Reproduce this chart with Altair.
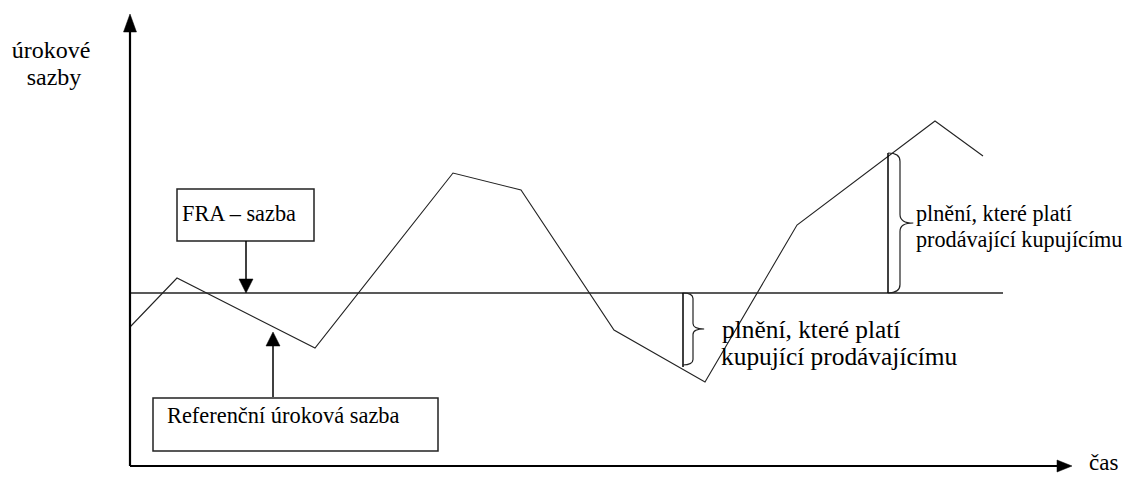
import altair as alt
import pandas as pd

# ---- data (diagram units: time to the right, rate upward) ----
ref_time = [122, 169, 307, 445, 513, 606, 697, 789, 927, 975]
ref_rate = [149, 198, 128, 303, 286, 146, 94, 251, 355, 320]

fra_rate = 183
fra_start, fra_end = 122, 995

axis_origin_t, axis_origin_u = 122, 10
axis_t_tip, axis_u_tip = 1064, 462

y_label = ["úrokové", "sazby"]
x_label = "čas"
fra_label = "FRA – sazba"
ref_label = "Referenční úroková sazba"
brace1_label = ["plnění, které platí", "kupující prodávajícímu"]
brace2_label = ["plnění, které platí", "prodávající kupujícímu"]

FONT = "Liberation Serif"
W, H = 1117, 468

xs = alt.Scale(domain=[0, W], nice=False, zero=False)
ys = alt.Scale(domain=[0, H], nice=False, zero=False)


def X(f="x"):
    return alt.X(f"{f}:Q", scale=xs, axis=None)


def Y(f="y"):
    return alt.Y(f"{f}:Q", scale=ys, axis=None)


def seg_layer(rows, width, color="black"):
    df = pd.DataFrame(rows, columns=["x", "y", "x2", "y2"])
    return alt.Chart(df).mark_rule(strokeWidth=width, color=color).encode(
        x=X(), y=Y(), x2="x2:Q", y2="y2:Q")


# reference rate line
ref_df = pd.DataFrame({"t": ref_time, "r": ref_rate, "o": range(len(ref_time))})
ref_line = alt.Chart(ref_df).mark_line(color="#222222", strokeWidth=1.1).encode(
    x=X("t"), y=Y("r"), order="o:Q")

# axes
axes = seg_layer([
    [axis_origin_t, axis_origin_u, axis_origin_t, axis_u_tip - 14],
    [axis_origin_t, axis_origin_u, axis_t_tip - 12, axis_origin_u],
], 2.2)

# FRA line
fra = seg_layer([[fra_start, fra_rate, fra_end, fra_rate]], 1.5, "#222222")

# boxes
box_df = pd.DataFrame({
    "x": [169, 145], "x2": [306, 430], "y": [287, 78], "y2": [235, 25]})
boxes = alt.Chart(box_df).mark_rect(fill="white", stroke="#222222", strokeWidth=1.5).encode(
    x=X(), x2="x2:Q", y=Y(), y2="y2:Q")

# arrow shafts
shafts = seg_layer([
    [238, 235, 238, fra_rate + 10],
    [265, 79, 265, 144 - 10],
], 1.5)

# vertical lines by braces
vlines = seg_layer([
    [675, fra_rate, 675, 109],
    [880, fra_rate, 880, 323],
], 1.5)


# arrowheads
def head(t, u, path, size):
    return alt.Chart(pd.DataFrame({"x": [t], "y": [u]})).mark_point(
        shape=path, size=size, filled=True, fill="black", stroke="black",
        strokeWidth=0.5, opacity=1).encode(x=X(), y=Y())


UP = "M 0 0 L 0.36 1 L -0.36 1 Z"
DOWN = "M 0 0 L 0.5 -1 L -0.5 -1 Z"
RIGHT = "M 0 0 L -1 0.4 L -1 -0.4 Z"
UP2 = "M 0 0 L 0.5 1 L -0.5 1 Z"

heads = [
    head(axis_origin_t, axis_u_tip, UP, 36 ** 2),
    head(axis_t_tip, axis_origin_u, RIGHT, 30 ** 2),
    head(238, fra_rate, DOWN, 28 ** 2),
    head(265, 144, UP2, 28 ** 2),
]


# braces
def brace(t, u, half, left, tip, c):
    path = (f"M {-left} -1 Q 0 -1 0 {-1 + c} L 0 {-c} Q 0 0 {tip} 0 "
            f"Q 0 0 0 {c} L 0 {1 - c} Q 0 1 {-left} 1")
    return alt.Chart(pd.DataFrame({"x": [t], "y": [u]})).mark_point(
        shape=path, size=(2 * half) ** 2, filled=False, stroke="#222222",
        strokeWidth=1.2, opacity=1).encode(x=X(), y=Y())


braces = [
    brace(685, 147, 36, 0.29, 0.31, 0.15),
    brace(892, 253, 70, 0.17, 0.19, 0.12),
]


# texts
def texts(rows, align, size):
    df = pd.DataFrame(rows, columns=["x", "y", "text"])
    return alt.Chart(df).mark_text(
        align=align, baseline="alphabetic", font=FONT, fontSize=size, color="black"
    ).encode(x=X(), y=Y(), text="text:N")


txt_layers = [
    texts([[174, 255, fra_label]], "left", 22.3),
    texts([[159, 53, ref_label]], "left", 22.4),
    texts([[714, 138, brace1_label[0]], [713, 111, brace1_label[1]]], "left", 25.4),
    texts([[908, 255, brace2_label[0]], [908, 229, brace2_label[1]]], "left", 22.2),
    texts([[1081, 6, x_label]], "left", 23),
    texts([[43, 418, y_label[0]], [46, 391, y_label[1]]], "center", 24),
]

chart = alt.layer(
    ref_line, fra, axes, vlines, boxes, shafts, *heads, *braces, *txt_layers
).properties(
    width=W, height=H, padding=0,
    autosize=alt.AutoSizeParams(type="none")
).configure_view(stroke=None)

chart.save("out.html", embed_options={"renderer": "svg", "actions": False})
